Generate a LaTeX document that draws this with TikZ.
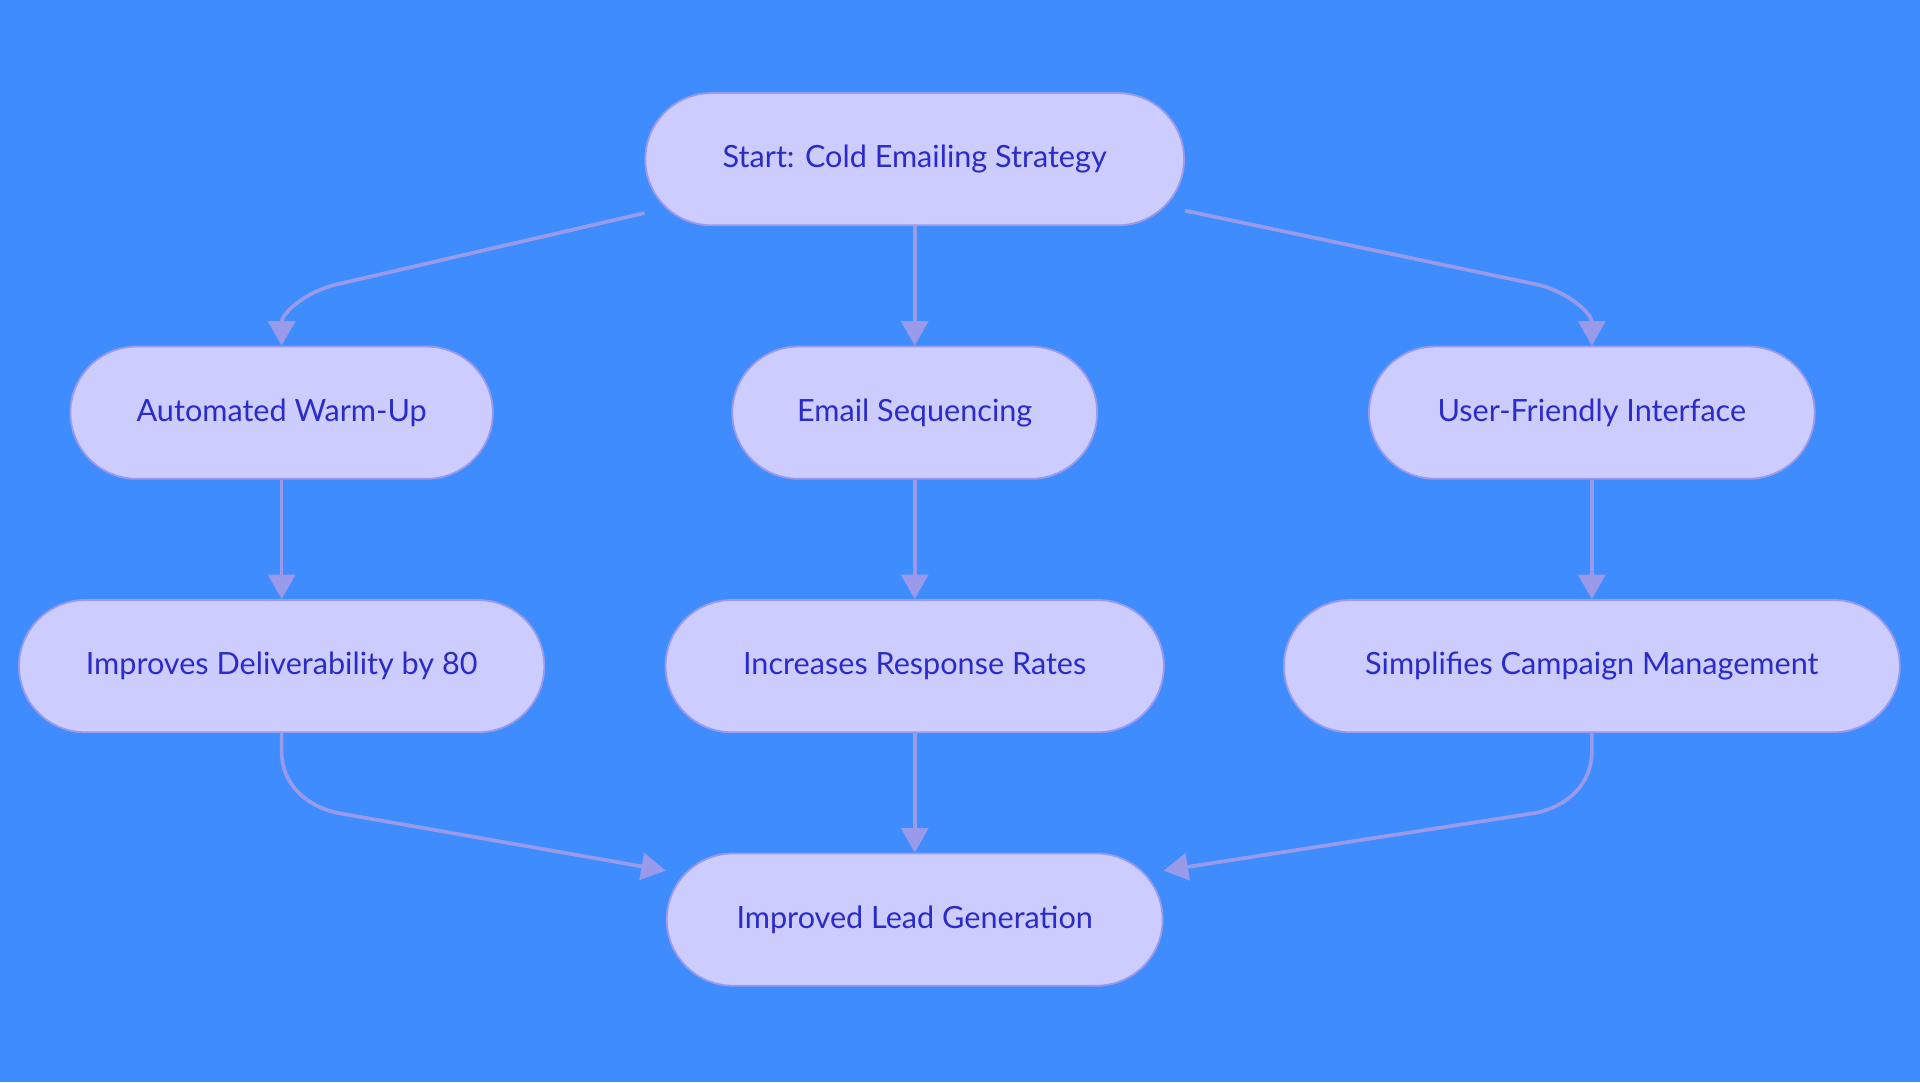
\documentclass[tikz,border=0pt]{standalone}
\usepackage{fontspec}
\setmainfont{Lato}
\usetikzlibrary{arrows.meta,calc}
\definecolor{bg}{HTML}{3F8CFF}
\definecolor{nf}{HTML}{CCCCFF}
\definecolor{nb}{HTML}{9A9AEA}
\definecolor{tx}{HTML}{2B2BC8}
\begin{document}
\begin{tikzpicture}[x=1pt,y=-1pt,
  box/.style={draw=nb,fill=nf,line width=1.5pt,rounded corners=54pt,minimum height=108pt,text=tx,font=\fontsize{25}{30}\selectfont,inner sep=0pt},
  edge/.style={draw=nb,line width=3pt,-{Triangle[length=20pt,width=22pt]}}]
\fill[bg] (0,0) rectangle (1568,884);
\useasboundingbox (0,0) rectangle (1568,884);
\node[box,minimum width=440pt] (s) at (747,130) {Start: Cold Emailing Strategy};
\node[box,minimum width=345pt] (a) at (230,337) {Automated Warm-Up};
\node[box,minimum width=298pt] (e) at (747,337) {Email Sequencing};
\node[box,minimum width=364pt] (u) at (1300,337) {User-Friendly Interface};
\node[box,minimum width=429pt] (i) at (230,544) {Improves Deliverability by 80};
\node[box,minimum width=407pt] (r) at (747,544) {Increases Response Rates};
\node[box,minimum width=503pt] (c) at (1300,544) {Simplifies Campaign Management};
\node[box,minimum width=405pt] (l) at (747,751) {Improved Lead Generation};
\draw[edge] ($(s.west)+(0,44)$) -- ($(a.north)+(45,-50)$) to[out=193,in=90] (a.north);
\draw[edge] ($(s.east)+(0,42)$) -- ($(u.north)+(-45,-50)$) to[out=-13,in=90] (u.north);
\draw[edge] (s) -- (e);
\draw[edge] (a) -- (i);
\draw[edge] (e) -- (r);
\draw[edge] (u) -- (c);
\draw[edge] (r) -- (l);
\draw[edge] (i.south) -- ++(0,15) to[out=270,in=167] ($(i.south)+(45,65)$) -- ($(l.west)+(0,-40)$);
\draw[edge] (c.south) -- ++(0,15) to[out=270,in=13] ($(c.south)+(-45,65)$) -- ($(l.east)+(0,-40)$);
\end{tikzpicture}
\end{document}
